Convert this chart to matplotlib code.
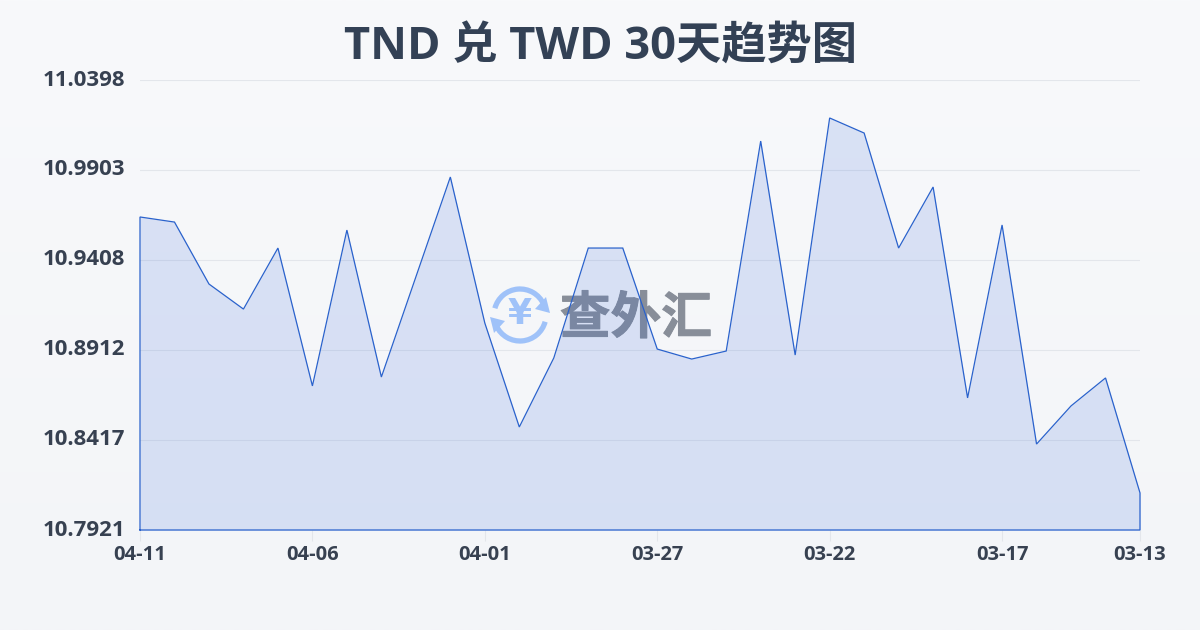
import numpy as np
import matplotlib
matplotlib.use('Agg')
import matplotlib.pyplot as plt
import matplotlib.patheffects as pe
from matplotlib.patches import Arc, Polygon

plt.rcParams['font.family'] = ['Noto Sans CJK SC', 'DejaVu Sans']

# values run from 04-11 back to 03-13
dates = ['04-11', '04-10', '04-09', '04-08', '04-07', '04-06', '04-05', '04-04', '04-03', '04-02',
         '04-01', '03-31', '03-30', '03-29', '03-28', '03-27', '03-26', '03-25', '03-24', '03-23',
         '03-22', '03-21', '03-20', '03-19', '03-18', '03-17', '03-16', '03-15', '03-14', '03-13']
rates = [10.9644, 10.9616, 10.9275, 10.9137, 10.9473, 10.8714, 10.9572, 10.8763, 10.9314, 10.9864,
         10.9060, 10.8488, 10.8868, 10.9473, 10.9473, 10.8917, 10.8862, 10.8906, 11.0062, 10.8884,
         11.0189, 11.0106, 10.9473, 10.9809, 10.8648, 10.9600, 10.8394, 10.8604, 10.8758, 10.8125]
y_ticks = [11.0398, 10.9903, 10.9408, 10.8912, 10.8417, 10.7921]
x_tick_labels = ['04-11', '04-06', '04-01', '03-27', '03-22', '03-17', '03-13']
title = 'TND 兑 TWD 30天趋势图'

W, H = 1200, 630
latin = ['Open Sans', 'Noto Sans CJK SC']
fig = plt.figure(figsize=(W / 100, H / 100), dpi=100)

# page background, slight vertical gradient
bg = fig.add_axes([0, 0, 1, 1], zorder=0)
bg.imshow(np.linspace(0, 1, 256).reshape(-1, 1), aspect='auto', extent=(0, W, H, 0),
          cmap=matplotlib.colors.LinearSegmentedColormap.from_list('bg', ['#f8f9fb', '#f3f5f8']))
bg.set_xlim(0, W)
bg.set_ylim(H, 0)
bg.axis('off')

# watermark, pixel coordinates
logo_blue = '#9fc2f9'
cx, cy, r = 520, 315, 26
bg.add_patch(Arc((cx, cy), 2 * r, 2 * r, theta1=195, theta2=335, color=logo_blue, lw=3.8))
bg.add_patch(Arc((cx, cy), 2 * r, 2 * r, theta1=15, theta2=155, color=logo_blue, lw=3.8))
bg.add_patch(Polygon([(490, 317), (505, 321), (494, 333)], color=logo_blue, lw=0))
bg.add_patch(Polygon([(550, 313), (535, 309), (546, 297)], color=logo_blue, lw=0))
bg.text(cx, cy - 1, '¥', color=logo_blue, fontsize=25, fontweight='bold', ha='center', va='center',
        family='DejaVu Sans')
bg.text(636, 319, '查外汇', color='#888e99', fontsize=36.5, fontweight='black', ha='center', va='center',
        path_effects=[pe.withStroke(linewidth=0.7, foreground='#888e99')])

ax = fig.add_axes([140 / W, 1 - 530 / H, 1000 / W, 450 / H], zorder=1)
ax.patch.set_alpha(0)
x = np.arange(len(rates))
ax.fill_between(x, rates, y_ticks[-1], color='#2f62d8', alpha=0.15, lw=0, zorder=2)
ax.plot(np.r_[0, x, x[-1], 0], np.r_[y_ticks[-1], rates, y_ticks[-1], y_ticks[-1]],
        color='#2a62cc', lw=0.9, solid_joinstyle='miter', zorder=3, clip_on=False)

ax.set_xlim(0, len(rates) - 1)
ax.set_ylim(y_ticks[-1], y_ticks[0])
ax.set_yticks(y_ticks[:-1])
ax.set_yticklabels([])
ax.tick_params(axis='y', length=0)
ax.grid(axis='y', color='#e3e6eb', lw=0.8, zorder=1)
ax.set_axisbelow(True)
for s in ax.spines.values():
    s.set_visible(False)

# every fifth date plus the last one
x_pos = [dates.index(d) for d in x_tick_labels]
ax.set_xticks(x_pos)
ax.set_xticklabels(x_tick_labels, fontsize=14.5, fontweight='bold', color='#374151', family=latin)
ax.tick_params(axis='x', length=8, width=0.8, color='#e3e6eb', pad=2.5)

for v in y_ticks:
    ax.annotate(f'{v:.4f}', (0, v), xytext=(-15, 0), textcoords='offset pixels', ha='right', va='center',
                fontsize=16, fontweight='bold', color='#374151', family=latin, annotation_clip=False)

fig.text(600 / W, 1 - 48 / H, title, fontsize=32.6, fontweight='bold', color='#334155', ha='center', va='center',
         family=latin)

fig.savefig('out.png', dpi=100)
